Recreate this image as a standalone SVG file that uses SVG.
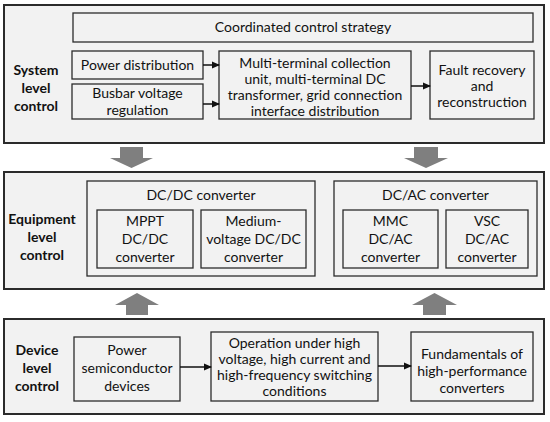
<svg xmlns="http://www.w3.org/2000/svg" width="550" height="422" viewBox="0 0 550 422">
<defs>
<marker id="ah" markerWidth="8" markerHeight="8" refX="7" refY="4" orient="auto" markerUnits="userSpaceOnUse">
<path d="M0,0.5 L8,4 L0,7.5 Z" fill="#111"/>
</marker>
<style>
.panel{fill:#f2f2f2;stroke:#2b2b2b;stroke-width:2}
.box{fill:#f2f2f2;stroke:#2b2b2b;stroke-width:1.3}
text{font-family:Lato,"Liberation Sans",sans-serif;font-size:14px;fill:#111;text-anchor:middle}
.lbl{font-weight:bold}
.con{stroke:#111;stroke-width:1.5;fill:none;marker-end:url(#ah)}
.big{fill:#7f7f7f}
</style>
</defs>
<rect width="550" height="422" fill="#fff"/>
<g id="system-level">
<rect class="panel" x="4" y="5" width="540" height="138"/>
<text class="lbl" x="36" y="75">System</text>
<text class="lbl" x="36" y="93">level</text>
<text class="lbl" x="36" y="111">control</text>
</g>
<g id="coordinated"><rect class="box" x="73" y="13" width="460" height="29"/><text x="303" y="32">Coordinated control strategy</text></g>
<g id="power-distribution"><rect class="box" x="72" y="51" width="131" height="28"/><text x="137.5" y="70">Power distribution</text></g>
<g id="busbar"><rect class="box" x="72" y="84" width="131" height="35"/><text x="137.5" y="98">Busbar voltage</text><text x="137.5" y="115">regulation</text></g>
<g id="multi-terminal"><rect class="box" x="219" y="51" width="192" height="68"/><text x="315" y="68">Multi-terminal collection</text><text x="315" y="84">unit, multi-terminal DC</text><text x="315" y="100">transformer, grid connection</text><text x="315" y="116">interface distribution</text></g>
<g id="fault"><rect class="box" x="430" y="51" width="104" height="68"/><text x="482" y="75">Fault recovery</text><text x="482" y="91">and</text><text x="482" y="107">reconstruction</text></g>

<g id="equipment-level">
<rect class="panel" x="4" y="172" width="540" height="117"/>
<text class="lbl" x="42" y="224">Equipment</text>
<text class="lbl" x="42" y="242">level</text>
<text class="lbl" x="42" y="260">control</text>
</g>
<g id="dcdc-group"><rect class="box" x="87" y="181" width="228" height="95"/><text x="201" y="200">DC/DC converter</text></g>
<g id="mppt"><rect class="box" x="97" y="210" width="96" height="58"/><text x="145" y="226">MPPT</text><text x="145" y="244">DC/DC</text><text x="145" y="262">converter</text></g>
<g id="medium-voltage"><rect class="box" x="201" y="210" width="105" height="58"/><text x="253.5" y="226">Medium-</text><text x="253.5" y="244">voltage DC/DC</text><text x="253.5" y="262">converter</text></g>
<g id="dcac-group"><rect class="box" x="334" y="181" width="203" height="95"/><text x="435.5" y="200">DC/AC converter</text></g>
<g id="mmc"><rect class="box" x="343" y="210" width="95" height="58"/><text x="390.5" y="226">MMC</text><text x="390.5" y="244">DC/AC</text><text x="390.5" y="262">converter</text></g>
<g id="vsc"><rect class="box" x="446" y="210" width="82" height="58"/><text x="487" y="226">VSC</text><text x="487" y="244">DC/AC</text><text x="487" y="262">converter</text></g>

<g id="device-level">
<rect class="panel" x="4" y="319" width="540" height="95"/>
<text class="lbl" x="37" y="355">Device</text>
<text class="lbl" x="37" y="373">level</text>
<text class="lbl" x="37" y="391">control</text>
</g>
<g id="power-semi"><rect class="box" x="74" y="337" width="106" height="64"/><text x="127" y="355">Power</text><text x="127" y="373">semiconductor</text><text x="127" y="391">devices</text></g>
<g id="operation"><rect class="box" x="211" y="332" width="167" height="69"/><text x="294.5" y="348">Operation under high</text><text x="294.5" y="364">voltage, high current and</text><text x="294.5" y="380">high-frequency switching</text><text x="294.5" y="396">conditions</text></g>
<g id="fundamentals"><rect class="box" x="411" y="332" width="122" height="69"/><text x="472" y="359">Fundamentals of</text><text x="472" y="376">high-performance</text><text x="472" y="393">converters</text></g>

<g id="connectors">
<line class="con" x1="203" y1="65" x2="219" y2="65"/>
<line class="con" x1="203" y1="104" x2="219" y2="104"/>
<line class="con" x1="411" y1="86" x2="430" y2="86"/>
<line class="con" x1="180" y1="367" x2="211" y2="367"/>
<line class="con" x1="378" y1="366" x2="411" y2="366"/>
<path class="big" d="M120,147 H143 V158 H153 L131.5,168 L110,158 H120 Z"/>
<path class="big" d="M414,147 H438 V158 H448 L426,168 L404,158 H414 Z"/>
<path class="big" d="M126,315 H148 V305 H159 L137,293 L115,305 H126 Z"/>
<path class="big" d="M423,315 H446 V305 H457 L434.5,293 L412,305 H423 Z"/>
</g>
</svg>
